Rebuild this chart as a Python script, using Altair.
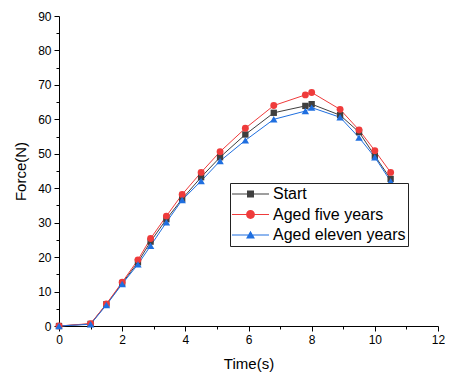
import altair as alt
import pandas as pd

time_s = [0, 1, 1.5, 2, 2.5, 2.9, 3.4, 3.9, 4.5, 5.1, 5.9, 6.8, 7.8, 8.0, 8.9, 9.5, 10, 10.5]
start = [0, 0.6, 6.3, 12.4, 18.5, 24.5, 31.0, 36.9, 43.2, 49.0, 55.6, 61.9, 63.9, 64.4, 61.2, 56.3, 49.4, 42.7]
aged_five = [0, 0.7, 6.4, 12.7, 19.2, 25.4, 31.9, 38.2, 44.6, 50.6, 57.4, 64.0, 67.1, 67.8, 62.9, 56.9, 50.9, 44.6]
aged_eleven = [0, 0.5, 6.1, 12.2, 17.9, 23.3, 30.1, 36.6, 42.1, 47.9, 53.9, 60.0, 62.4, 63.4, 60.6, 54.7, 49.0, 42.0]

series_names = ["Start", "Aged five years", "Aged eleven years"]
series_values = [start, aged_five, aged_eleven]
colors = ["#3f3f3f", "#ef3b3b", "#1f6fe0"]
shapes = ["square", "circle", "triangle-up"]
point_sizes = [40, 55, 55]

x_ticks = list(range(0, 13))
y_ticks = list(range(0, 95, 5))

rows = []
for name, vals in zip(series_names, series_values):
    for t, f in zip(time_s, vals):
        rows.append({"time": t, "force": f, "series": name})
df = pd.DataFrame(rows)

FONT = "Liberation Sans"

line_seg = "M-1,-0.03H1V0.03H-1Z "
legend_paths = [
    line_seg + "M-0.19,-0.19H0.19V0.19H-0.19Z",
    line_seg + "M0.24,0A0.24,0.24 0 1,1 -0.24,0A0.24,0.24 0 1,1 0.24,0Z",
    line_seg + "M0,-0.23L0.24,0.19H-0.24Z",
]

x_axis = alt.Axis(
    values=x_ticks,
    labelExpr="datum.value % 2 == 0 ? datum.label : ''",
    tickSize={"condition": {"test": "datum.value % 2 != 0", "value": 3}, "value": 5},
    grid=False,
    title="Time(s)",
    titlePadding=11,
    labelPadding=3,
    labelFlush=False,
)
y_axis = alt.Axis(
    values=y_ticks,
    labelExpr="datum.value % 10 == 0 ? datum.label : ''",
    tickSize={"condition": {"test": "datum.value % 10 != 0", "value": 3}, "value": 5},
    grid=False,
    title="Force(N)",
    titlePadding=9,
    labelPadding=3,
    labelFlush=False,
)

base = alt.Chart(df).encode(
    x=alt.X("time:Q", scale=alt.Scale(domain=[0, 12], nice=False, zero=False), axis=x_axis),
    y=alt.Y("force:Q", scale=alt.Scale(domain=[0, 90], nice=False), axis=y_axis),
)

color_scale = alt.Scale(domain=series_names, range=colors)

lines = base.mark_line(strokeWidth=1).encode(
    color=alt.Color("series:N", scale=color_scale, legend=None),
)

points = base.mark_point(filled=True, opacity=1).encode(
    color=alt.Color("series:N", scale=color_scale, legend=None),
    shape=alt.Shape("series:N", scale=alt.Scale(domain=series_names, range=shapes), legend=None),
    size=alt.Size("series:N", scale=alt.Scale(domain=series_names, range=point_sizes), legend=None),
)

legend_def = dict(
    orient="none",
    legendX=171,
    legendY=167,
    title=None,
    fillColor="white",
    strokeColor="#222222",
    padding=2,
    labelFont=FONT,
    labelFontSize=16,
    labelColor="black",
    labelOffset=4,
    symbolSize=1369,
    symbolStrokeWidth=0,
    clipHeight=18,
    rowPadding=2.5,
)

legend_layer = base.mark_point(filled=True, opacity=1, size=1369).encode(
    color=alt.Color("series:N", scale=color_scale, legend=alt.Legend(**legend_def)),
    shape=alt.Shape("series:N", scale=alt.Scale(domain=series_names, range=legend_paths),
                    legend=alt.Legend(**legend_def)),
).transform_filter("false")

chart = alt.layer(lines, points, legend_layer).resolve_scale(
    color="independent", shape="independent", size="independent"
).properties(
    width=379,
    height=310,
    padding={"left": 51, "top": 8, "right": 7, "bottom": 48},
    autosize="none",
).configure_view(stroke=None).configure_axis(
    domainColor="black",
    tickColor="black",
    labelColor="black",
    titleColor="black",
    labelFont=FONT,
    titleFont=FONT,
    labelFontSize=12,
    titleFontSize=15,
    titleFontWeight="normal",
    labelOverlap=False,
)

chart.save("out.html", embed_options={"renderer": "svg", "actions": False})
